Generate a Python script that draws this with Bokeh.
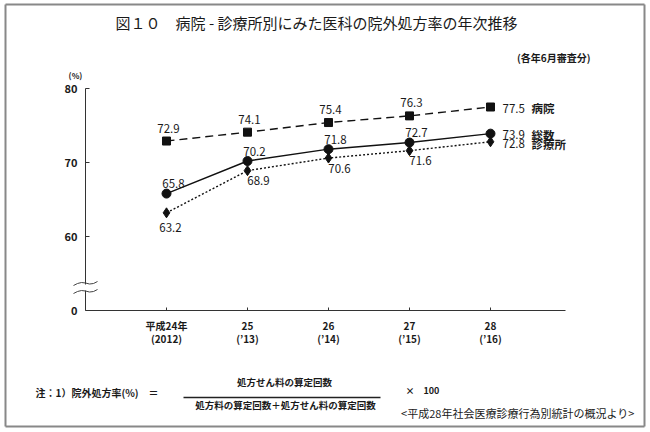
from bokeh.plotting import figure
from bokeh.models import Range1d, Label, Arrow, FixedTicker
from bokeh.embed import file_html
from bokeh.resources import INLINE

# ---- data ----
years = ["平成24年\n(2012)", "25\n(’13)", "26\n(’14)", "27\n(’15)", "28\n(’16)"]
hospital = [72.9, 74.1, 75.4, 76.3, 77.5]
total = [65.8, 70.2, 71.8, 72.7, 73.9]
clinic = [63.2, 68.9, 70.6, 71.6, 72.8]
series_names = ["病院", "総数", "診療所"]
y_ticks = [50, 60, 70, 80]
y_tick_labels = ["0", "60", "70", "80"]

title_text = "図１０　病院 - 診療所別にみた医科の院外処方率の年次推移"
subtitle_text = "(各年6月審査分)"
unit_text = "(%)"
note_lhs = "注：1）院外処方率(%)　＝"
note_num = "処方せん料の算定回数"
note_den = "処方料の算定回数＋処方せん料の算定回数"
note_mul = "×　100"
source_text = "<平成28年社会医療診療行為別統計の概況より>"

FONT = "Noto Sans CJK JP"
INK = "#1a1a1a"

W, H = 650, 432
# axis box in page pixels
FL, FR, FT, FB = 85, 565, 88, 310
AX0, AX1 = -1.0, 4.926
AY0, AY1 = 50, 80
pxx = (FR - FL) / (AX1 - AX0)
pxy = (FB - FT) / (AY1 - AY0)


def dx(rx):
    return AX0 + (rx - FL) / pxx


def dy(ry):
    return AY0 + (FB - ry) / pxy


p = figure(width=W, height=H, output_backend="svg", toolbar_location=None,
           x_range=Range1d(dx(0), dx(W)), y_range=Range1d(dy(H), dy(0)),
           min_border=0, min_border_left=0, min_border_right=0,
           min_border_top=0, min_border_bottom=0,
           background_fill_color="white", border_fill_color="white",
           outline_line_color=None)
p.grid.visible = False

# axes (library axes, pinned at the axis box)
xa = p.xaxis[0]
xa.fixed_location = AY0
xa.bounds = (AX0, AX1)
xa.ticker = FixedTicker(ticks=list(range(len(years))))
xa.major_label_overrides = {i: t for i, t in enumerate(years)}
xa.major_tick_in = 3
xa.major_tick_out = 0
xa.minor_tick_line_color = None
xa.axis_line_color = "#333"
xa.major_tick_line_color = "#333"
xa.major_label_text_font = FONT
xa.major_label_text_font_size = "10px"
xa.major_label_text_font_style = "bold"
xa.major_label_text_color = INK
xa.major_label_text_line_height = 0.9
xa.major_label_standoff = 7

ya = p.yaxis[0]
ya.fixed_location = AX0
ya.bounds = (AY0, AY1)
ya.ticker = FixedTicker(ticks=y_ticks)
ya.major_label_overrides = {t: l for t, l in zip(y_ticks, y_tick_labels)}
ya.major_tick_in = 4
ya.major_tick_out = 0
ya.minor_tick_line_color = None
ya.axis_line_color = "#333"
ya.major_tick_line_color = "#333"
ya.major_label_text_font = FONT
ya.major_label_text_font_size = "11px"
ya.major_label_text_font_style = "bold"
ya.major_label_text_color = INK
ya.major_label_standoff = 8

xs = list(range(len(years)))

# series
p.line(xs, hospital, line_color="#111", line_width=1.4, line_dash="8 5")
p.scatter(xs, hospital, marker="square", size=8, color="#111")
p.line(xs, total, line_color="#111", line_width=1.4)
p.scatter(xs, total, marker="circle", size=9, color="#111")
p.line(xs, clinic, line_color="#111", line_width=1.4, line_dash="2 2")
p.scatter(xs, clinic, marker="diamond", size=10, color="#111")


def lab(x, y, text, size="11.5px", align="center", style="normal", color=INK):
    p.add_layout(Label(x=x, y=y, text=text, text_font=FONT, text_font_size=size,
                       text_align=align, text_baseline="middle",
                       text_font_style=style, text_color=color))


def seg(rx0, ry0, rx1, ry1, color="#333", width=1.0):
    p.add_layout(Arrow(end=None, x_start=dx(rx0), y_start=dy(ry0),
                       x_end=dx(rx1), y_end=dy(ry1),
                       line_color=color, line_width=width))


# value labels
n = len(years)
for i, v in enumerate(hospital):
    if i < n - 1:
        lab(i + 2 / pxx, v + 13 / pxy, f"{v:.1f}")
    else:
        lab(i + 12 / pxx, v - 1 / pxy, f"{v:.1f}", align="left")
for i, v in enumerate(total):
    if i < n - 1:
        lab(i + 7 / pxx, v + 10 / pxy, f"{v:.1f}")
    else:
        lab(i + 12 / pxx, v - 1 / pxy, f"{v:.1f}", align="left")
for i, v in enumerate(clinic):
    if i == 0:
        lab(i + 4 / pxx, v - 15 / pxy, f"{v:.1f}")
    elif i < n - 1:
        lab(i + 11 / pxx, v - 10 / pxy, f"{v:.1f}")
    else:
        lab(i + 12 / pxx, v - 2 / pxy, f"{v:.1f}", align="left")

# series names
for name, vals, oy in zip(series_names, [hospital, total, clinic], [-1, -1, -2]):
    lab(n - 1 + 41 / pxx, vals[-1] + oy / pxy, name, align="left", style="bold")

# axis break
seg(FL, 284, FL, 290, color="white", width=6)
for base in (283, 291):
    pts = [(73, base + 2), (77, base), (81, base - 1), (85, base - 0.5),
           (89, base + 0.5), (93, base + 0), (97, base - 2)]
    for (a, b), (c, d) in zip(pts[:-1], pts[1:]):
        seg(a, b, c, d, color="#444", width=1)

# texts
lab(dx(316), dy(22), title_text, size="15px")
lab(dx(590), dy(57), subtitle_text, size="10px", align="right", style="bold")
lab(dx(75), dy(75), unit_text, size="8px", style="bold")

lab(dx(35), dy(392), note_lhs, size="10px", align="left", style="bold")
lab(dx(284), dy(381), note_num, size="9.5px", style="bold")
seg(183, 397, 380, 397, color="#222", width=1.5)
lab(dx(285), dy(404), note_den, size="9.5px", style="bold")
lab(dx(405), dy(390), note_mul, size="9px", align="left", style="bold")
lab(dx(634), dy(412), source_text, size="11px", align="right")

# outer border
bl, br, bt, bb = 5, 644, 4, 426
seg(bl, bt, br, bt, color="#888", width=2)
seg(br, bt, br, bb, color="#888", width=2)
seg(br, bb, bl, bb, color="#888", width=2)
seg(bl, bb, bl, bt, color="#888", width=2)

open("out.html", "w").write(file_html(p, INLINE))
